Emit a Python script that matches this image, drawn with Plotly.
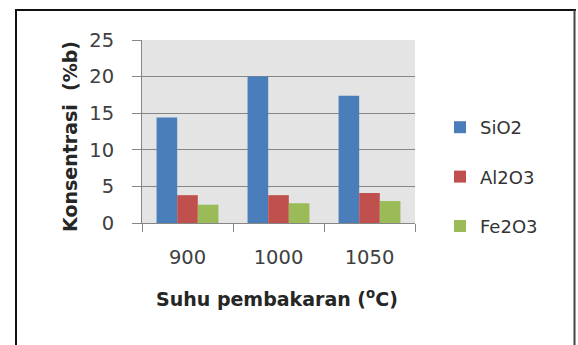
import plotly.graph_objects as go

# Kiln temperature categories and oxide concentrations (% by weight)
suhu = ["900", "1000", "1050"]
sio2 = [14.4, 20.0, 17.4]
al2o3 = [3.8, 3.8, 4.1]
fe2o3 = [2.5, 2.7, 3.0]

y_ticks = [0, 5, 10, 15, 20, 25]

W, H = 578, 345
ML, MR, MT, MB = 142, 163, 40, 122
PW, PH = W - ML - MR, H - MT - MB


def px_x(px):
    return (px - ML) / PW


def px_y(py):
    return 1 - (py - MT) / PH


TICK_FONT = dict(family="DejaVu Sans", size=19.5, color="#404040")
TITLE_FONT = dict(family="DejaVu Sans", size=19, color="#262626")

fig = go.Figure()
series = [("SiO2", sio2, "#4a7ebb"), ("Al2O3", al2o3, "#c0504d"), ("Fe2O3", fe2o3, "#9bbb59")]
for name, vals, col in series:
    fig.add_trace(go.Bar(x=suhu, y=vals, name=name, legendgroup=name,
                         marker=dict(color=col, line=dict(width=0))))

fig.update_layout(
    width=W, height=H,
    margin=dict(l=ML, r=MR, t=MT, b=MB, autoexpand=False),
    paper_bgcolor="white",
    plot_bgcolor="#e4e4e4",
    barmode="group", bargap=0.32, bargroupgap=0,
    legend=dict(x=px_x(440), xanchor="left", y=px_y(109), yanchor="top",
                font=dict(family="DejaVu Sans", size=18, color="#333333"),
                tracegroupgap=23, traceorder="grouped", bgcolor="rgba(0,0,0,0)"),
    showlegend=True,
)

fig.update_xaxes(
    type="category", showline=True, linecolor="#868686", linewidth=1,
    ticks="outside", tickson="boundaries", ticklen=8, tickcolor="#868686",
    tickfont=TICK_FONT, ticklabelstandoff=17, showgrid=False, automargin=False,
)
fig.update_yaxes(
    range=[0, 25], tickvals=y_ticks, showline=True, linecolor="#868686", linewidth=1,
    ticks="outside", ticklen=9, tickcolor="#868686", tickfont=TICK_FONT,
    ticklabelstandoff=14, showgrid=True, gridcolor="#868686", gridwidth=1,
    zeroline=False, automargin=False,
)

fig.add_annotation(text="<b>Konsentrasi  (%b)</b>", textangle=-90,
                   xref="paper", yref="paper", x=px_x(70), y=px_y(137),
                   xanchor="center", yanchor="middle", showarrow=False, font=TITLE_FONT)
fig.add_annotation(text="<b>Suhu pembakaran (<sup>o</sup>C)</b>",
                   xref="paper", yref="paper", x=px_x(277), y=px_y(298),
                   xanchor="center", yanchor="middle", showarrow=False, font=TITLE_FONT)

# Outer chart frame
frame = [
    (px_x(16), px_y(10), px_x(16), px_y(346), "#111111", 2),
    (px_x(15), px_y(10), px_x(576), px_y(10), "#111111", 2),
    (px_x(574.5), px_y(10), px_x(574.5), px_y(346), "#444444", 2),
]
for x0, y0, x1, y1, c, w in frame:
    fig.add_shape(type="line", xref="paper", yref="paper", x0=x0, y0=y0, x1=x1, y1=y1,
                  line=dict(color=c, width=w))

fig.write_html("out.html")
